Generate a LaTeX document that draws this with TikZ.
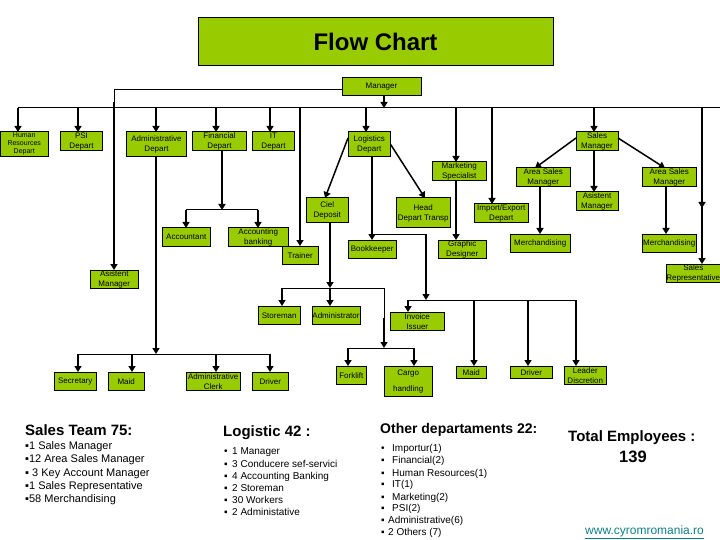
\documentclass[tikz,border=0pt]{standalone}
\usepackage{fontspec}
\setmainfont{Liberation Sans}
\usetikzlibrary{arrows.meta}
\definecolor{boxgreen}{HTML}{99CC00}
\definecolor{linkteal}{HTML}{0F7F86}
\tikzset{
    staff/.style 2 args={draw=black, line width=1pt, fill=boxgreen, anchor=north west, inner sep=0pt, outer sep=0pt,
        minimum width=#1pt, minimum height=#2pt, align=center, font=\fontsize{8}{10}\selectfont},
    rail/.style={line width=1pt, black},
    trunk/.style={line width=2.2pt, black},
    drop/.style={line width=2.2pt, black, -{Triangle[width=7pt,length=6pt]}},
    slant/.style={line width=1.5pt, black, -{Triangle[width=7pt,length=6pt]}},
    headline/.style={anchor=base west, inner sep=0pt, font=\fontsize{#1}{16}\selectfont\bfseries},
    item/.style={anchor=base west, inner sep=0pt, font=\fontsize{#1}{13}\selectfont},
}
\begin{document}
\begin{tikzpicture}[x=1pt, y=-1pt]
    % Define parameters
    \def\busY{108}     % Main line under the manager
    \def\clerkY{354}   % Line over the administrative staff
    \def\bankY{210}    % Line under the financial depart
    \def\storeY{288}   % Line under the deposit
    \def\cargoY{348}   % Line over forklift and cargo
    \def\issueY{300}   % Line over invoice, maid, driver, leader

    \useasboundingbox (0,0) rectangle (720,540);

    %%Boxes, top row:
    \node[staff={355}{48}, font=\fontsize{24}{28}\selectfont\bfseries] (title) at (198,18) {Flow Chart};
    \node[staff={79}{18}] (mgr) at (342,78) {Manager};
    \node[staff={48.5}{24.5}, font=\fontsize{7}{8}\selectfont] (hr) at (0,132) {Human\\Resources\\Depart};
    \node[staff={42}{18.5}] (psi) at (60.5,132) {PSI\\Depart};
    \node[staff={60}{24.5}] (adm) at (126.5,132) {Administrative\\Depart};
    \node[staff={54}{18.5}] (fin) at (192.5,132) {Financial\\Depart};
    \node[staff={42}{18.5}] (it) at (252.5,132) {IT\\Depart};
    \node[staff={42.5}{24.5}] (log) at (348,132) {Logistics\\Depart};
    \node[staff={42}{18.5}] (sm) at (576,132) {Sales\\Manager};

    %%Boxes, middle rows:
    \node[staff={54.5}{18.5}] (mkt) at (432,162) {Marketing\\Specialist};
    \node[staff={54.5}{18.5}] (asa) at (516,168) {Area Sales\\Manager};
    \node[staff={54.5}{18.5}] (asb) at (642,168) {Area Sales\\Manager};
    \node[staff={42}{18.5}] (asm) at (576,192) {Asistent\\Manager};
    \node[staff={54.5}{18.5}] (imp) at (474,204) {Import/Export\\Depart};
    \node[staff={54.5}{30}] (head) at (396,198) {Head\\Depart Transp};
    \node[staff={42.5}{24.5}] (ciel) at (306,198) {Ciel\\Deposit};
    \node[staff={48.5}{18.5}] (acc) at (162,228) {Accountant};
    \node[staff={60.5}{18.5}] (bank) at (228,228) {Accounting\\banking};
    \node[staff={36.5}{18.5}] (trn) at (282,246) {Trainer};
    \node[staff={48.5}{18.5}] (bk) at (348,240) {Bookkeeper};
    \node[staff={48.5}{18.5}] (gra) at (438,240) {Graphic\\Designer};
    \node[staff={60.5}{18.5}] (mera) at (510,234) {Merchandising};
    \node[staff={54.5}{18.5}] (merb) at (642,234) {Merchandising};
    \node[staff={54.5}{18.5}] (rep) at (666,264) {Sales\\Representative};
    \node[staff={48.5}{18.5}] (asl) at (90,270) {Asistent\\Manager};

    %%Boxes, bottom rows:
    \node[staff={42.5}{18.5}] (stm) at (258,306) {Storeman};
    \node[staff={48}{18.5}] (adr) at (312,306) {Administrator};
    \node[staff={54.5}{18.5}] (inv) at (390,312) {Invoice\\Issuer};
    \node[staff={30.5}{18.5}] (fkl) at (336,366) {Forklift};
    \node[staff={48.5}{30.5}] (cgo) at (384,366) {Cargo\\[6pt]handling};
    \node[staff={30.5}{12.5}] (maidb) at (456,366) {Maid};
    \node[staff={42.5}{12.5}] (drvb) at (510,366) {Driver};
    \node[staff={42.5}{18.5}] (ldr) at (564,366) {Leader\\Discretion};
    \node[staff={42.5}{18.5}] (sec) at (54,372) {Secretary};
    \node[staff={36.5}{18.5}] (maid) at (108,372) {Maid};
    \node[staff={54.5}{18.5}] (clerk) at (186,372) {Administrative\\Clerk};
    \node[staff={36.5}{18.5}] (drv) at (252,372) {Driver};

    %%Arrows down to each box, from a tap on a line:
    \foreach \n/\x/\y in {hr/18/\busY, psi/78/\busY, adm/156/\busY, fin/216/\busY, it/270/\busY, log/366/\busY,
            mkt/456/\busY, imp/492/\busY, sm/594/\busY, trn/300/\busY, rep/702/\busY, asl/114/102,
            acc/186/\bankY, bank/258/\bankY, sec/78/\clerkY, maid/132/\clerkY, clerk/216/\clerkY, drv/270/\clerkY,
            stm/282/\storeY, adr/330/\storeY, fkl/348/\cargoY, cgo/414/\cargoY,
            inv/408/\issueY, maidb/474/\issueY, drvb/528/\issueY, ldr/576/\issueY,
            gra/456/180, asm/594/150, mera/540/186, merb/666/186, bk/372/234} {
        \coordinate (tap\n) at (\x,\y);
        \draw[drop] (tap\n) -- (tap\n |- \n.north);
    }

    % Thin lines joining the taps
    \coordinate (busEnd) at (720,\busY);
    \coordinate (mgrLeft) at (342,90);
    \coordinate (storeEnd) at (384,\storeY);
    \coordinate (cargoGap) at (384,318);
    \coordinate (turn) at (426,234);
    \draw[rail] (taphr) -- (busEnd);
    \draw[rail] (mgrLeft) -| (tapasl);
    \draw[rail] (tapacc) -- (tapbank);
    \draw[rail] (tapsec) -- (tapdrv);
    \draw[rail] (tapstm) -- (storeEnd) -- (cargoGap);
    \draw[rail] (tapfkl) -- (tapcgo);
    \draw[rail] (tapinv) -- (tapldr);
    \draw[rail] (tapbk) -- (turn);

    % Arrows that end on a line
    \coordinate (mgrTap) at (384,\busY);
    \coordinate (admTap) at (156,\clerkY);
    \coordinate (finTap) at (222,\bankY);
    \coordinate (cielTap) at (330,\storeY);
    \coordinate (cargoTap) at (384,\cargoY);
    \coordinate (issueTap) at (426,\issueY);
    \coordinate (repMid) at (702,208);
    \draw[drop] (mgrTap |- mgr.south) -- (mgrTap);
    \draw[drop] (admTap |- adm.south) -- (admTap);
    \draw[drop] (finTap |- fin.south) -- (finTap);
    \draw[drop] (cielTap |- ciel.south) -- (cielTap);
    \draw[drop] (cargoGap) -- (cargoTap);
    \draw[drop] (turn) -- (issueTap);
    \draw[drop] (taprep) -- (repMid);
    \draw[trunk] (tapbk |- log.south) -- (tapbk);

    % Slanted arrows
    \coordinate (logLeft) at (348,138);
    \coordinate (cielTop) at (325,198);
    \coordinate (headTop) at (425,198);
    \coordinate (smLeft) at (576,138);
    \coordinate (smRight) at (618,138);
    \coordinate (asaTop) at (535,168);
    \coordinate (asbTop) at (665,168);
    \draw[slant] (logLeft) -- (cielTop);
    \draw[slant] (log.east) -- (headTop);
    \draw[slant] (smLeft) -- (asaTop);
    \draw[slant] (smRight) -- (asbTop);

    %%Lists under the chart:
    \node[headline=15] (salesHead) at (25,435) {Sales Team 75:};
    \foreach \y/\t [count=\i] in {449.3/▪1 Sales Manager, 462.7/▪12 Area Sales Manager, 476/▪ 3 Key Account Manager,
            489/▪1 Sales Representative, 502.7/▪58 Merchandising} {
        \node[item=11] (sales\i) at (25,\y) {\t};
    }

    \node[headline=15] (logiHead) at (223,436) {Logistic 42 :};
    \foreach \b/\y/\t [count=\i] in {•/454/1 Manager, ▪/467/3 Conducere sef-servici, ▪/479/4 Accounting Banking,
            ▪/491/2 Storeman, ▪/503/30 Workers, ▪/515/2 Administative} {
        \node[item=10] (logi\i) at (224,\y) {\makebox[8pt][l]{\b}\t};
    }

    \node[headline=14] (otherHead) at (380,433) {Other departaments 22:};
    \foreach \b/\w/\y/\t [count=\i] in {•/11/451.3/Importur(1), ▪/11/463.7/Financial(2), ▪/11/476/Human Resources(1),
            ▪/11/487.3/IT(1), ▪/11/500/Marketing(2), ▪/11/511.7/PSI(2), ▪/7/523.7/Administrative(6), ▪/7/535.7/2 Others (7)} {
        \node[item=10] (other\i) at (381,\y) {\makebox[\w pt][l]{\b}\t};
    }

    \node[headline=15] (total) at (568,441) {Total Employees :};
    \node[anchor=base, inner sep=0pt, font=\fontsize{16.5}{18}\selectfont\bfseries] (count) at (633,462.7) {139};
    \node[anchor=base west, inner sep=0pt, text=linkteal, font=\fontsize{12}{14}\selectfont] (link) at (585,534)
        {\underline{www.cyromromania.ro}};

\end{tikzpicture}
\end{document}
